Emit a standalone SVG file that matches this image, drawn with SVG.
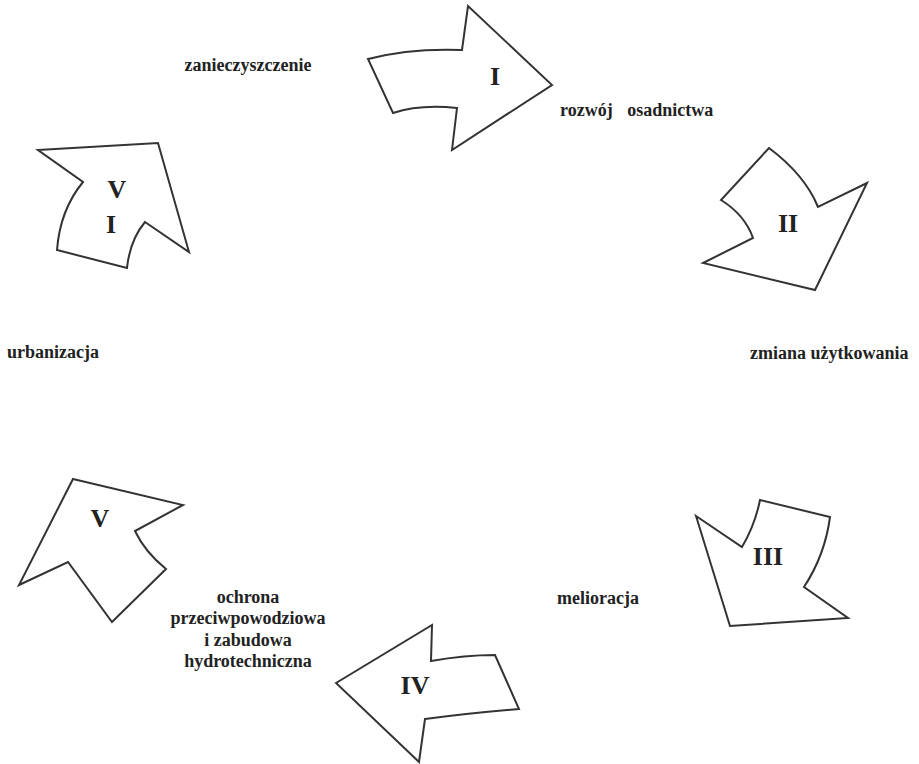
<svg xmlns="http://www.w3.org/2000/svg" width="919" height="764" viewBox="0 0 919 764">
<style>
.a{fill:#fff;stroke:#333;stroke-width:2;stroke-linejoin:miter}
.n{font-family:"Liberation Serif","Times New Roman",serif;font-weight:bold;font-size:26px;fill:#222;text-anchor:middle}
.t{font-family:"Liberation Serif","Times New Roman",serif;font-weight:bold;font-size:18px;fill:#222}
</style>
<rect width="919" height="764" fill="#fff"/>
<g id="arrow-I">
<path class="a" d="M368,59 Q410,48 462,50 L468,6 L552,85 L452,150 L457,108 Q420,104 393,113 Z"/>
<text class="n" x="495" y="85">I</text>
</g>
<g id="arrow-II">
<path class="a" d="M769,148 Q805,175 818,207 L867,183 L815,290 L703,263 L753,238 Q745,215 721,200 Z"/>
<text class="n" x="788" y="232">II</text>
</g>
<g id="arrow-III">
<path class="a" d="M696,516 L742,547 Q755,525 760,500 L830,517 Q825,555 804,587 L848,618 L730,626 Z"/>
<text class="n" x="768" y="565">III</text>
</g>
<g id="arrow-IV">
<path class="a" d="M336,683 L432,625 L431,661 Q465,655 495,655 L519,709 Q470,713 425,719 L419,762 Z"/>
<text class="n" x="415" y="694">IV</text>
</g>
<g id="arrow-V">
<path class="a" d="M73,479 L183,505 L135,531 Q145,552 166,569 L112,622 L68,562 L19,585 Z"/>
<text class="n" x="100" y="527">V</text>
</g>
<g id="arrow-VI">
<path class="a" d="M38,150 L158,143 L189,252 L145,222 Q130,240 127,268 L57,250 Q60,210 83,182 Z"/>
<text class="n" x="117" y="198">V</text>
<text class="n" x="111" y="233">I</text>
</g>
<g id="labels">
<text class="t" x="248" y="71" text-anchor="middle">zanieczyszczenie</text>
<text class="t" x="560" y="116" word-spacing="10">rozwój osadnictwa</text>
<text class="t" x="750" y="359">zmiana użytkowania</text>
<text class="t" x="7" y="358">urbanizacja</text>
<text class="t" x="557" y="604">melioracja</text>
<text class="t" x="248" y="603" text-anchor="middle">ochrona</text>
<text class="t" x="248" y="624" text-anchor="middle">przeciwpowodziowa</text>
<text class="t" x="248" y="646" text-anchor="middle">i zabudowa</text>
<text class="t" x="248" y="667" text-anchor="middle">hydrotechniczna</text>
</g>
<g id="connectors"></g>
</svg>
